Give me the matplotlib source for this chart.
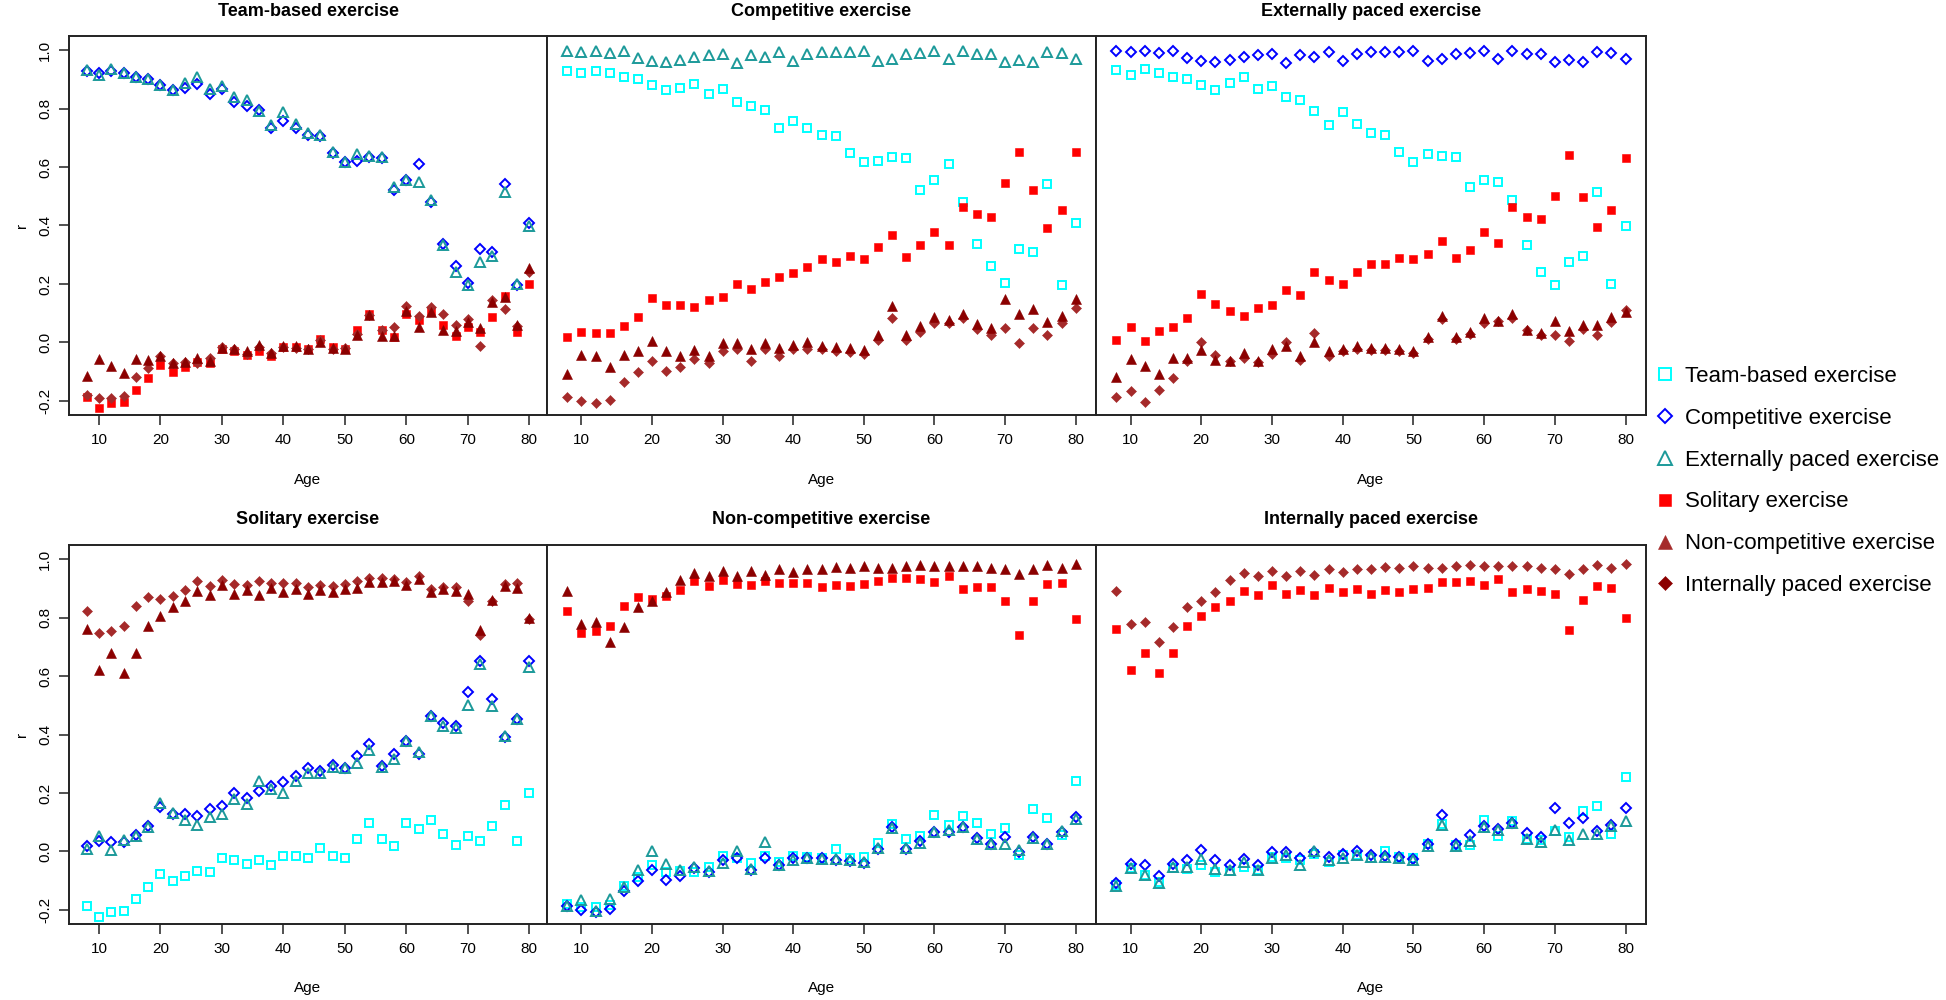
import matplotlib
matplotlib.use("Agg")
import matplotlib.pyplot as plt
from matplotlib.lines import Line2D

plt.rcParams['font.family'] = ['Liberation Sans', 'DejaVu Sans']

# ---------------- data ----------------
ages = list(range(8, 81, 2))

categories = ["Team-based exercise", "Competitive exercise", "Externally paced exercise",
              "Solitary exercise", "Non-competitive exercise", "Internally paced exercise"]
codes = ["T", "C", "E", "S", "N", "I"]

# pairwise correlations (r) by age
r_team_comp = [0.928, 0.920, 0.928, 0.922, 0.909, 0.900, 0.879, 0.862, 0.871, 0.885, 0.848, 0.868, 0.823,
               0.808, 0.795, 0.734, 0.759, 0.734, 0.708, 0.705, 0.649, 0.618, 0.619, 0.634, 0.630, 0.523,
               0.555, 0.612, 0.481, 0.337, 0.261, 0.202, 0.320, 0.310, 0.543, 0.196, 0.407]
r_team_ext = [0.931, 0.915, 0.935, 0.922, 0.909, 0.901, 0.880, 0.864, 0.886, 0.907, 0.868, 0.877, 0.841,
              0.828, 0.792, 0.742, 0.788, 0.747, 0.716, 0.711, 0.653, 0.618, 0.645, 0.638, 0.633, 0.530,
              0.556, 0.548, 0.488, 0.334, 0.240, 0.195, 0.276, 0.297, 0.515, 0.201, 0.397]
r_team_sol = [-0.186, -0.223, -0.207, -0.202, -0.162, -0.121, -0.076, -0.100, -0.084, -0.068, -0.071, -0.023,
              -0.029, -0.044, -0.029, -0.046, -0.015, -0.014, -0.023, 0.011, -0.015, -0.021, 0.044, 0.099,
              0.042, 0.019, 0.096, 0.078, 0.108, 0.060, 0.023, 0.053, 0.037, 0.088, 0.158, 0.037, 0.199]
r_team_noncomp = [-0.178, -0.191, -0.189, -0.183, -0.119, -0.088, -0.045, -0.069, -0.068, -0.069, -0.053,
                  -0.016, -0.022, -0.039, -0.015, -0.036, -0.014, -0.019, -0.024, 0.008, -0.024, -0.019,
                  0.028, 0.095, 0.042, 0.052, 0.125, 0.090, 0.122, 0.097, 0.061, 0.081, -0.012, 0.144,
                  0.115, 0.057, 0.240]
r_team_int = [-0.115, -0.056, -0.079, -0.104, -0.055, -0.059, -0.045, -0.069, -0.068, -0.052, -0.065, -0.018,
              -0.021, -0.030, -0.010, -0.036, -0.013, -0.012, -0.022, 0.002, -0.020, -0.023, 0.025, 0.093,
              0.021, 0.023, 0.108, 0.053, 0.105, 0.042, 0.040, 0.069, 0.050, 0.139, 0.154, 0.060, 0.256]
r_comp_ext = [0.998, 0.993, 0.995, 0.990, 0.995, 0.973, 0.961, 0.958, 0.966, 0.975, 0.983, 0.988, 0.956,
              0.982, 0.976, 0.992, 0.964, 0.985, 0.992, 0.992, 0.992, 0.995, 0.963, 0.970, 0.987, 0.989,
              0.995, 0.969, 0.995, 0.985, 0.985, 0.958, 0.965, 0.958, 0.992, 0.989, 0.968]
r_comp_sol = [0.020, 0.035, 0.032, 0.034, 0.057, 0.088, 0.151, 0.128, 0.127, 0.122, 0.144, 0.155, 0.200,
              0.183, 0.207, 0.225, 0.236, 0.258, 0.284, 0.274, 0.296, 0.287, 0.327, 0.369, 0.292, 0.333,
              0.379, 0.332, 0.464, 0.438, 0.428, 0.544, 0.652, 0.520, 0.393, 0.452, 0.652]
r_comp_noncomp = [-0.187, -0.199, -0.208, -0.198, -0.135, -0.101, -0.064, -0.098, -0.085, -0.057, -0.069,
                  -0.030, -0.024, -0.062, -0.021, -0.047, -0.024, -0.023, -0.024, -0.029, -0.034, -0.038,
                  0.010, 0.084, 0.009, 0.036, 0.065, 0.067, 0.082, 0.047, 0.027, 0.050, -0.001, 0.048,
                  0.027, 0.065, 0.118]
r_comp_int = [-0.107, -0.044, -0.046, -0.083, -0.042, -0.030, 0.005, -0.029, -0.046, -0.026, -0.046, -0.002,
              -0.001, -0.023, -0.002, -0.018, -0.008, 0.001, -0.012, -0.015, -0.020, -0.025, 0.026, 0.124,
              0.026, 0.056, 0.088, 0.078, 0.099, 0.062, 0.051, 0.149, 0.098, 0.113, 0.069, 0.092, 0.150]
r_ext_sol = [0.010, 0.052, 0.006, 0.040, 0.052, 0.084, 0.166, 0.131, 0.107, 0.091, 0.118, 0.128, 0.179,
             0.163, 0.242, 0.215, 0.199, 0.241, 0.270, 0.268, 0.290, 0.286, 0.301, 0.346, 0.289, 0.317,
             0.377, 0.339, 0.463, 0.428, 0.423, 0.502, 0.640, 0.499, 0.394, 0.452, 0.630]
r_ext_noncomp = [-0.185, -0.167, -0.205, -0.164, -0.122, -0.065, 0.002, -0.044, -0.062, -0.053, -0.067,
                 -0.040, 0.000, -0.061, 0.032, -0.045, -0.029, -0.022, -0.027, -0.027, -0.030, -0.035,
                 0.012, 0.079, 0.012, 0.028, 0.067, 0.073, 0.084, 0.042, 0.027, 0.026, 0.004, 0.046,
                 0.025, 0.069, 0.110]
r_ext_int = [-0.118, -0.057, -0.080, -0.107, -0.052, -0.054, -0.025, -0.060, -0.062, -0.036, -0.064, -0.021,
             -0.011, -0.046, 0.003, -0.029, -0.024, -0.012, -0.020, -0.020, -0.024, -0.030, 0.019, 0.090,
             0.018, 0.035, 0.085, 0.074, 0.096, 0.043, 0.034, 0.074, 0.038, 0.059, 0.060, 0.086, 0.104]
r_sol_noncomp = [0.822, 0.748, 0.754, 0.771, 0.840, 0.871, 0.864, 0.872, 0.893, 0.926, 0.908, 0.927, 0.915,
                 0.912, 0.925, 0.917, 0.918, 0.917, 0.905, 0.912, 0.909, 0.915, 0.925, 0.935, 0.935, 0.932,
                 0.922, 0.943, 0.896, 0.903, 0.905, 0.858, 0.740, 0.858, 0.916, 0.917, 0.794]
r_sol_int = [0.760, 0.621, 0.678, 0.609, 0.678, 0.771, 0.806, 0.835, 0.858, 0.891, 0.878, 0.910, 0.879,
             0.893, 0.877, 0.902, 0.886, 0.897, 0.880, 0.894, 0.887, 0.899, 0.902, 0.921, 0.923, 0.926,
             0.912, 0.932, 0.888, 0.899, 0.891, 0.882, 0.757, 0.861, 0.908, 0.902, 0.797]
r_noncomp_int = [0.892, 0.779, 0.784, 0.718, 0.769, 0.837, 0.858, 0.886, 0.929, 0.951, 0.943, 0.960, 0.942,
                 0.960, 0.944, 0.967, 0.955, 0.966, 0.966, 0.973, 0.970, 0.976, 0.970, 0.969, 0.975, 0.980,
                 0.975, 0.975, 0.975, 0.977, 0.969, 0.965, 0.949, 0.965, 0.980, 0.971, 0.984]

pairs = {
    frozenset("TC"): r_team_comp, frozenset("TE"): r_team_ext, frozenset("TS"): r_team_sol,
    frozenset("TN"): r_team_noncomp, frozenset("TI"): r_team_int, frozenset("CE"): r_comp_ext,
    frozenset("CS"): r_comp_sol, frozenset("CN"): r_comp_noncomp, frozenset("CI"): r_comp_int,
    frozenset("ES"): r_ext_sol, frozenset("EN"): r_ext_noncomp, frozenset("EI"): r_ext_int,
    frozenset("SN"): r_sol_noncomp, frozenset("SI"): r_sol_int, frozenset("NI"): r_noncomp_int,
}

# ---------------- styles ----------------
CYAN, BLUE, TEAL, RED, BROWN, DARKRED = "#00FFFF", "#0000FF", "#1C9A9A", "#FF0000", "#A52A2A", "#8B0000"
plot_style = {
    "T": dict(marker="s", ms=5.6, mfc="none", mec=CYAN, mew=1.4),
    "C": dict(marker="D", ms=5.0, mfc="none", mec=BLUE, mew=1.4),
    "E": dict(marker="^", ms=7.2, mfc="none", mec=TEAL, mew=1.4),
    "S": dict(marker="s", ms=6.0, mfc=RED, mec=RED, mew=0.4),
    "N": dict(marker="D", ms=5.0, mfc=BROWN, mec=BROWN, mew=0.4),
    "I": dict(marker="^", ms=7.0, mfc=DARKRED, mec=DARKRED, mew=0.4),
}
legend_style = {
    "T": dict(marker="s", ms=8.0, mfc="none", mec=CYAN, mew=1.4),
    "C": dict(marker="D", ms=7.0, mfc="none", mec=BLUE, mew=1.4),
    "E": dict(marker="^", ms=10.0, mfc="none", mec=TEAL, mew=1.4),
    "S": dict(marker="s", ms=8.5, mfc=RED, mec=RED, mew=0.4),
    "N": dict(marker="^", ms=10.0, mfc=BROWN, mec=BROWN, mew=0.4),
    "I": dict(marker="D", ms=7.5, mfc=DARKRED, mec=DARKRED, mew=0.4),
}

# ---------------- layout ----------------
W, H = 1946, 1000
fig = plt.figure(figsize=(W / 100, H / 100), dpi=100)
col_px = [(69, 547), (547, 1096), (1096, 1646)]
row_px = [(36, 415), (545, 924)]
title_base = [16, 524]
age_base = [484, 992]
spine_c = "#222222"

for k, (cat, code) in enumerate(zip(categories, codes)):
    r, c = divmod(k, 3)
    x0, x1 = col_px[c]
    y0, y1 = row_px[r]
    ax = fig.add_axes([x0 / W, 1 - y1 / H, (x1 - x0) / W, (y1 - y0) / H])
    for other in codes:
        if other == code:
            continue
        ax.plot(ages, pairs[frozenset(code + other)], linestyle="none", **plot_style[other])
    ax.set_xlim(5.12, 82.88)
    ax.set_ylim(-0.248, 1.048)
    ax.set_xticks(range(10, 81, 10))
    ax.tick_params(axis="x", direction="out", length=7, width=1.1, labelsize=11, pad=6, color=spine_c)
    if c == 0:
        yt = [-0.2, 0.0, 0.2, 0.4, 0.6, 0.8, 1.0]
        ax.set_yticks(yt)
        ax.set_yticklabels([f"{v:.1f}" for v in yt], rotation=90, va="center")
        ax.tick_params(axis="y", direction="out", length=7, width=1.1, labelsize=11, pad=5, color=spine_c)
        fig.text(22 / W, 1 - ((y0 + y1) / 2) / H, "r", rotation=90, ha="center", va="center", fontsize=11)
    else:
        ax.set_yticks([])
    for s in ax.spines.values():
        s.set_linewidth(1.4)
        s.set_color(spine_c)
    cx = (x0 + x1) / 2 / W
    fig.text(cx, 1 - title_base[r] / H, cat, ha="center", va="baseline", fontsize=13, fontweight="bold")
    fig.text(cx, 1 - age_base[r] / H, "Age", ha="center", va="baseline", fontsize=11)

handles = [Line2D([], [], linestyle="none", **legend_style[cd]) for cd in codes]
fig.legend(handles, categories, loc="center left", bbox_to_anchor=(1656 / W, 1 - 481 / H),
           frameon=False, fontsize=16, handlelength=0.8, handletextpad=0.5, labelspacing=0.94,
           borderpad=0, borderaxespad=0)

fig.savefig("out.png", dpi=100)
